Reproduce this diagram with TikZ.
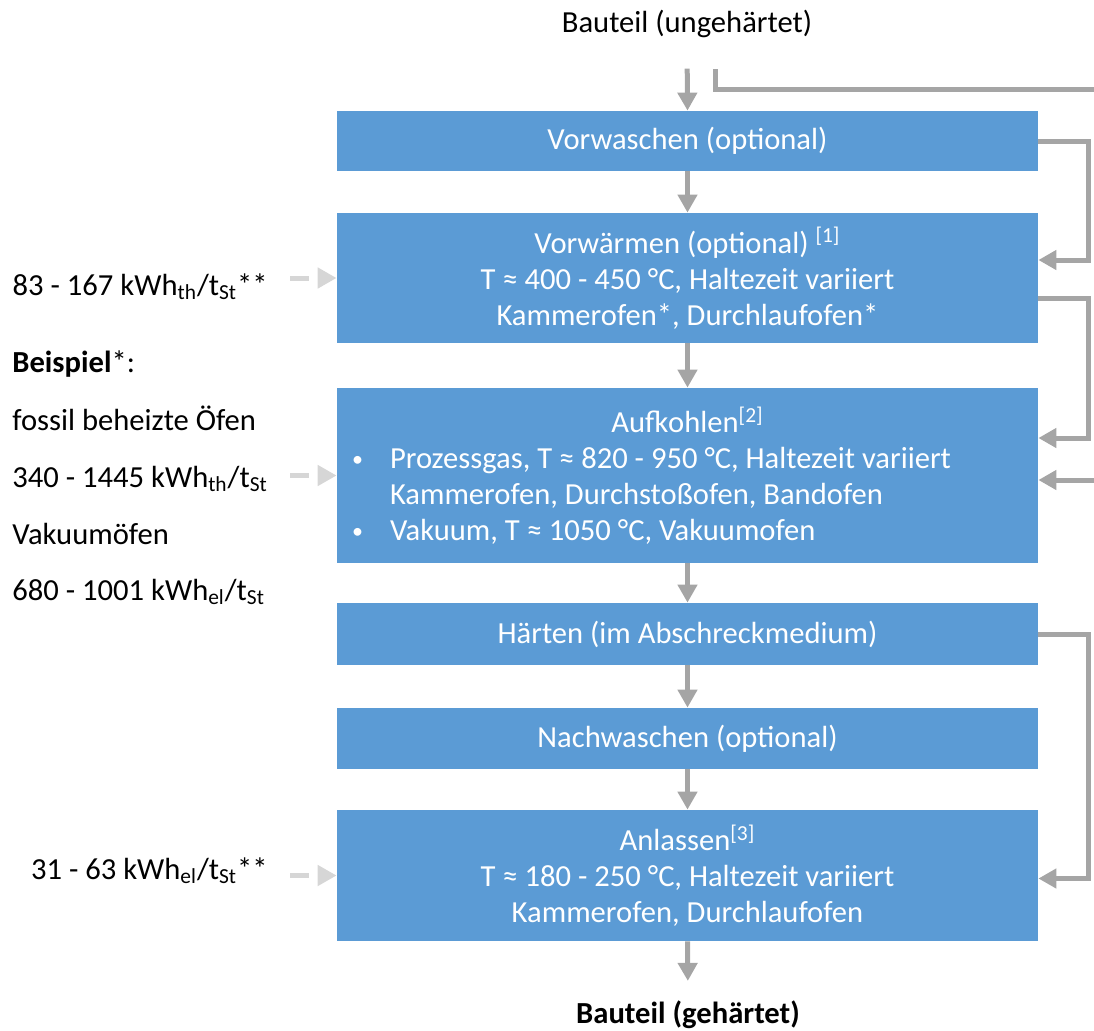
\documentclass[tikz,border=0pt]{standalone}
\usepackage{fontspec}
\setmainfont{Carlito}
\usetikzlibrary{arrows.meta,calc}

\definecolor{boxblue}{HTML}{5B9BD5}
\definecolor{linegray}{HTML}{A5A5A5}
\definecolor{energygray}{HTML}{D6D6D6}

\newcommand{\bul}{\makebox[19pt][l]{\raisebox{1pt}{\fontsize{11}{11}\selectfont •}}}

\tikzset{
	stepbox/.style={fill=boxblue, text=white, minimum width=350.5pt, inner sep=0pt,
		align=center, font=\fontsize{15.3}{18}\selectfont},
	plaintext/.style={inner sep=0pt, font=\fontsize{15.3}{18}\selectfont},
	flow/.style={draw=linegray, line width=2.5pt, -{Triangle[length=9pt,width=9.5pt]}},
	loopline/.style={draw=linegray, line width=2.5pt},
	energy/.style={draw=energygray, line width=2.5pt, dash pattern=on 9.5pt off 20pt,
		-{Triangle[length=9.5pt,width=10pt]}, shorten <=11pt},
}

\begin{document}
\begin{tikzpicture}[x=0.5pt,y=-0.5pt]
\useasboundingbox (0,0) rectangle (1094,1030);

% Prozesskette
\node[plaintext, anchor=base] (in) at (687,32) {Bauteil (ungehärtet)};
\node[stepbox, minimum height=30pt] (vorwaschen) at (687.5,141) {Vorwaschen (optional)};
\node[stepbox, minimum height=65pt] (vorwaermen) at (687.5,278)
	{Vorwärmen (optional) \textsuperscript{[1]}\\T ≈ 400 - 450 °C, Haltezeit variiert\\Kammerofen*, Durchlaufofen*};
\node[stepbox, minimum height=87.5pt] (aufkohlen) at (687.5,475.5)
	{Aufkohlen\textsuperscript{[2]}\\
	\makebox[335.5pt][l]{\bul Prozessgas, T ≈ 820 - 950 °C, Haltezeit variiert}\\
	\makebox[335.5pt][l]{\hspace*{19pt}Kammerofen, Durchstoßofen, Bandofen}\\
	\makebox[335.5pt][l]{\bul Vakuum, T ≈ 1050 °C, Vakuumofen}};
\node[stepbox, minimum height=31pt] (haerten) at (687.5,634) {Härten (im Abschreckmedium)};
\node[stepbox, minimum height=30.5pt] (nachwaschen) at (687.5,738.5) {Nachwaschen (optional)};
\node[stepbox, minimum height=65.5pt] (anlassen) at (687.5,875.5)
	{Anlassen\textsuperscript{[3]}\\T ≈ 180 - 250 °C, Haltezeit variiert\\Kammerofen, Durchlaufofen};
\node[plaintext, anchor=base, font=\fontsize{15.3}{18}\selectfont\bfseries] (out) at (688,1023) {Bauteil (gehärtet)};

% Energiebedarf
\node[plaintext, anchor=base east] (ew1) at (268,295) {83 - 167 kWh\textsubscript{th}/t\textsubscript{St}**};
\node[plaintext, anchor=base west] (bsp) at (12,372) {\textbf{Beispiel}*:};
\node[plaintext, anchor=base west] (fossil) at (12,430) {fossil beheizte Öfen};
\node[plaintext, anchor=base west] (ew2) at (12,487) {340 - 1445 kWh\textsubscript{th}/t\textsubscript{St}};
\node[plaintext, anchor=base west] (vakuum) at (12,544) {Vakuumöfen};
\node[plaintext, anchor=base west] (ew2b) at (12,600) {680 - 1001 kWh\textsubscript{el}/t\textsubscript{St}};
\node[plaintext, anchor=base east] (ew3) at (268,879) {31 - 63 kWh\textsubscript{el}/t\textsubscript{St}**};

\coordinate (feedtop) at (715,69);
\coordinate (feedright) at (1094,89);
\coordinate (feedin) at (1094,480);

\draw[flow, shorten <=15.5pt] (in.south) -- (vorwaschen.north);
\draw[flow] (vorwaschen) -- (vorwaermen);
\draw[flow] (vorwaermen) -- (aufkohlen);
\draw[flow] (aufkohlen) -- (haerten);
\draw[flow] (haerten) -- (nachwaschen);
\draw[flow] (nachwaschen) -- (anlassen);
\draw[flow, shorten >=9.5pt] (anlassen.south) -- (out.north);

% Rueckfuehrungen rechts
\draw[loopline] (feedtop) |- (feedright);
\draw[flow] (vorwaschen.east) -- ++(50,0) |- ([yshift=9pt]vorwaermen.east);
\draw[flow] ([yshift=-10pt]vorwaermen.east) -- ++(50,0) |- ([yshift=18.75pt]aufkohlen.east);
\draw[flow] (feedin) -- (aufkohlen.east |- feedin);
\draw[flow] (haerten.east) -- ++(50,0) |- ([yshift=-1.5pt]anlassen.east);

\draw[energy] (ew1.east |- vorwaermen.west) -- (vorwaermen.west);
\draw[energy] (ew1.east |- aufkohlen.west) -- (aufkohlen.west);
\draw[energy] (ew3.east |- anlassen.west) -- (anlassen.west);

\end{tikzpicture}
\end{document}
